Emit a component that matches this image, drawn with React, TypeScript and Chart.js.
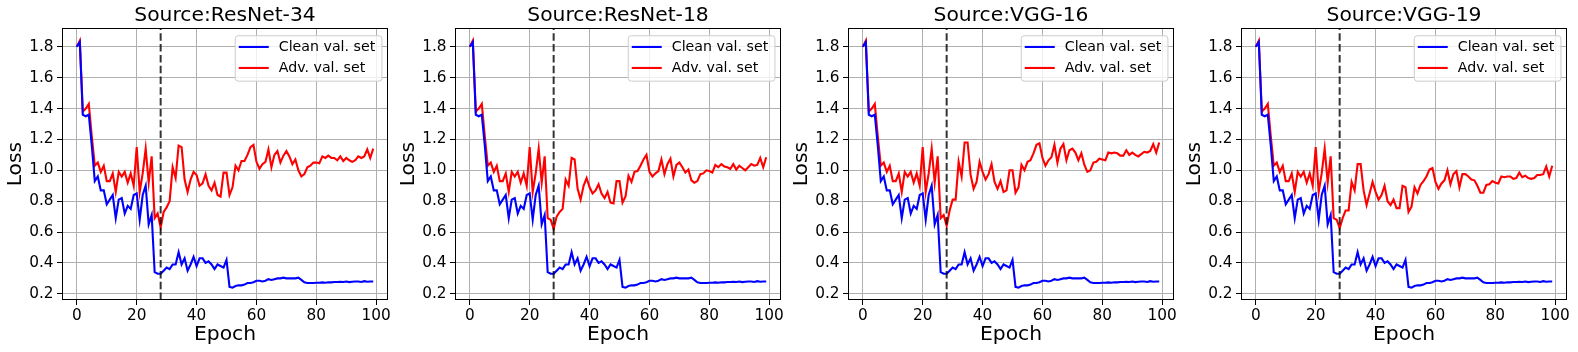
import React, { useEffect, useRef } from 'react';
import { Chart, registerables } from 'chart.js';

Chart.register(...registerables);

// ---------- data ----------
const EPOCHS = Array.from({ length: 100 }, (_, i) => i);
const X_TICKS = [0, 20, 40, 60, 80, 100];
const Y_TICKS = [0.2, 0.4, 0.6, 0.8, 1.0, 1.2, 1.4, 1.6, 1.8];
const X_MIN = -4.95;
const X_MAX = 103.95;
const Y_MIN = 0.16;
const Y_MAX = 1.92;
const SWITCH_EPOCH = 28;
const SERIES_LABELS = ['Clean val. set', 'Adv. val. set'];
const TITLES = ['Source:ResNet-34', 'Source:ResNet-18', 'Source:VGG-16', 'Source:VGG-19'];

const CLEAN_LOSS = [
  1.80, 1.83, 1.36, 1.35, 1.36, 1.16, 0.93, 0.96, 0.87, 0.87,
  0.78, 0.81, 0.84, 0.69, 0.81, 0.82, 0.72, 0.77, 0.75, 0.84,
  0.85, 0.68, 0.84, 0.90, 0.65, 0.71, 0.34, 0.33, 0.33, 0.35,
  0.37, 0.36, 0.39, 0.39, 0.47, 0.39, 0.43, 0.35, 0.39, 0.44,
  0.38, 0.43, 0.43, 0.40, 0.41, 0.39, 0.36, 0.39, 0.38, 0.37,
  0.42, 0.245, 0.24, 0.25, 0.255, 0.255, 0.26, 0.27, 0.27, 0.275,
  0.285, 0.285, 0.28, 0.285, 0.295, 0.29, 0.295, 0.30, 0.30, 0.305,
  0.30, 0.30, 0.30, 0.30, 0.305, 0.29, 0.275, 0.27, 0.27, 0.27,
  0.272, 0.272, 0.274, 0.272, 0.275, 0.274, 0.277, 0.277, 0.278, 0.277,
  0.28, 0.276, 0.278, 0.28, 0.28, 0.277, 0.282, 0.278, 0.28, 0.28,
];

// epochs 0-26, shared by all four sources
const ADV_EARLY = [
  1.80, 1.84, 1.38, 1.40, 1.43, 1.22, 1.03, 1.05, 0.99, 1.03,
  0.93, 0.93, 0.98, 0.86, 0.99, 0.96, 0.99, 0.92, 0.98, 0.90,
  1.15, 0.86, 0.98, 1.14, 0.92, 1.09, 0.69,
];

// epochs 27-99
const ADV_RESNET34 = [
  0.72, 0.63, 0.73, 0.76, 0.80, 1.02, 0.95, 1.16, 1.15, 0.94,
  0.86, 0.94, 0.99, 0.97, 0.90, 0.915, 0.975, 0.90, 0.87, 0.92,
  0.84, 0.83, 0.985, 0.985, 0.84, 0.89, 1.03, 1.00, 1.06, 1.06,
  1.10, 1.15, 1.165, 1.055, 1.01, 1.04, 1.055, 1.135, 1.02, 1.10,
  1.125, 1.05, 1.095, 1.125, 1.09, 1.04, 1.07, 1.00, 0.96, 0.975,
  1.02, 1.03, 1.05, 1.05, 1.045, 1.09, 1.08, 1.095, 1.08, 1.08,
  1.065, 1.09, 1.06, 1.08, 1.065, 1.055, 1.065, 1.09, 1.08, 1.09,
  1.135, 1.08, 1.14,
];

const ADV_RESNET18 = [
  0.68, 0.62, 0.70, 0.73, 0.75, 0.94, 0.90, 1.08, 1.07, 0.88,
  0.81, 0.90, 0.95, 0.89, 0.85, 0.87, 0.91, 0.85, 0.82, 0.86,
  0.79, 0.785, 0.93, 0.93, 0.79, 0.83, 0.965, 0.925, 0.99, 0.995,
  1.03, 1.07, 1.10, 0.99, 0.96, 0.98, 0.995, 1.07, 0.975, 1.04,
  1.075, 0.96, 1.035, 1.05, 1.02, 0.985, 1.005, 0.935, 0.92, 0.93,
  0.975, 0.98, 1.00, 0.995, 0.985, 1.035, 1.02, 1.04, 1.025, 1.02,
  1.01, 1.04, 1.005, 1.03, 1.015, 1.00, 1.02, 1.04, 1.03, 1.035,
  1.08, 1.02, 1.085,
];

const ADV_VGG16 = [
  0.71, 0.64, 0.74, 0.81, 0.81, 1.055, 0.96, 1.18, 1.18, 0.97,
  0.88, 0.925, 1.055, 0.99, 0.94, 0.975, 1.04, 0.925, 0.88, 0.93,
  0.86, 0.87, 1.00, 1.00, 0.855, 0.89, 1.035, 1.00, 1.055, 1.065,
  1.11, 1.165, 1.175, 1.08, 1.03, 1.065, 1.085, 1.165, 1.05, 1.14,
  1.17, 1.065, 1.13, 1.14, 1.115, 1.065, 1.11, 1.035, 0.99, 1.00,
  1.05, 1.055, 1.075, 1.07, 1.065, 1.115, 1.11, 1.115, 1.11, 1.095,
  1.095, 1.13, 1.10, 1.115, 1.10, 1.09, 1.105, 1.12, 1.115, 1.125,
  1.17, 1.115, 1.18,
];

const ADV_VGG19 = [
  0.68, 0.625, 0.69, 0.74, 0.74, 0.925, 0.87, 1.04, 1.04, 0.87,
  0.775, 0.85, 0.925, 0.86, 0.81, 0.84, 0.90, 0.80, 0.775, 0.81,
  0.755, 0.755, 0.90, 0.89, 0.73, 0.765, 0.89, 0.85, 0.905, 0.93,
  0.96, 1.005, 1.015, 0.925, 0.88, 0.915, 0.935, 1.00, 0.91, 0.975,
  0.995, 0.89, 0.975, 0.975, 0.96, 0.94, 0.935, 0.90, 0.855, 0.855,
  0.905, 0.91, 0.93, 0.92, 0.915, 0.96, 0.955, 0.96, 0.96, 0.945,
  0.95, 0.985, 0.955, 0.965, 0.95, 0.945, 0.95, 0.97, 0.97, 0.975,
  1.025, 0.96, 1.03,
];

const ADV_LATE = [ADV_RESNET34, ADV_RESNET18, ADV_VGG16, ADV_VGG19];

// ---------- styling ----------
const FONT = 'DejaVu Sans';
const CANVAS_W = 393;
const CANVAS_H = 352;
const PANEL_LEFTS = [0, 393, 786, 1179];

const decorPlugin = {
  id: 'decor',
  afterDatasetsDraw(chart: any) {
    const { ctx, chartArea: a, scales } = chart;
    const x = scales.x.getPixelForValue(SWITCH_EPOCH);
    ctx.save();
    // dashed switch line
    ctx.strokeStyle = 'rgba(0,0,0,0.8)';
    ctx.lineWidth = 2;
    ctx.setLineDash([7.5, 3.3]);
    ctx.beginPath();
    ctx.moveTo(x, a.bottom);
    ctx.lineTo(x, a.top);
    ctx.stroke();
    ctx.setLineDash([]);
    // frame
    ctx.strokeStyle = '#000';
    ctx.lineWidth = 1;
    const l = Math.round(a.left) + 0.5;
    const r = Math.round(a.right) - 0.5;
    const t = Math.round(a.top) + 0.5;
    const b = Math.round(a.bottom) - 0.5;
    ctx.strokeRect(l, t, r - l, b - t);
    ctx.restore();
  },
  afterDraw(chart: any) {
    const { ctx, chartArea: a } = chart;
    const w = 146.7;
    const h = 45.4;
    const lx = a.right - 6.6 - w;
    const ly = a.top + 7;
    ctx.save();
    ctx.beginPath();
    (ctx as any).roundRect(lx + 0.5, ly + 0.5, w, h, 3);
    ctx.fillStyle = 'rgba(255,255,255,0.8)';
    ctx.fill();
    ctx.strokeStyle = '#cccccc';
    ctx.lineWidth = 1;
    ctx.stroke();
    ctx.font = `14.2px "${FONT}"`;
    ctx.textBaseline = 'middle';
    ctx.textAlign = 'left';
    chart.data.datasets.forEach((ds: any, i: number) => {
      const y = ly + 11.7 + i * 21;
      ctx.strokeStyle = ds.borderColor;
      ctx.lineWidth = 2.1;
      ctx.beginPath();
      ctx.moveTo(lx + 4, y);
      ctx.lineTo(lx + 34, y);
      ctx.stroke();
      ctx.fillStyle = '#000';
      ctx.fillText(ds.label, lx + 44, y);
    });
    ctx.restore();
  },
};

function makeConfig(title: string, adv: number[]): any {
  const tickFont = { family: FONT, size: 15.3 };
  const labelFont = { family: FONT, size: 20.3 };
  return {
    type: 'line',
    data: {
      datasets: [
        {
          label: SERIES_LABELS[0],
          data: EPOCHS.map((e, i) => ({ x: e, y: CLEAN_LOSS[i] })),
          borderColor: '#0000ff',
          borderWidth: 2.1,
          pointRadius: 0,
          tension: 0,
          fill: false,
        },
        {
          label: SERIES_LABELS[1],
          data: EPOCHS.map((e, i) => ({ x: e, y: adv[i] })),
          borderColor: '#ff0000',
          borderWidth: 2.1,
          pointRadius: 0,
          tension: 0,
          fill: false,
        },
      ],
    },
    options: {
      animation: false,
      responsive: false,
      maintainAspectRatio: false,
      devicePixelRatio: 1,
      layout: { padding: { left: 0, right: 3.4, top: 0, bottom: 0 } },
      plugins: {
        legend: { display: false },
        tooltip: { enabled: false },
        title: {
          display: true,
          text: title,
          fullSize: false,
          color: '#000',
          font: { family: FONT, size: 20.3, weight: 'normal', lineHeight: 1.2 },
          padding: { top: 3.3, bottom: 0.6 },
        },
      },
      scales: {
        x: {
          type: 'linear',
          min: X_MIN,
          max: X_MAX,
          afterBuildTicks: (s: any) => {
            s.ticks = X_TICKS.map((v) => ({ value: v }));
          },
          afterFit: (s: any) => {
            s.height = 52;
          },
          ticks: {
            font: tickFont,
            color: '#000',
            padding: 2,
            maxRotation: 0,
            autoSkip: false,
            callback: (v: any) => String(v),
          },
          grid: { color: '#b0b0b0', lineWidth: 1, tickColor: '#000', tickLength: 5, drawTicks: true },
          border: { display: false },
          title: {
            display: true,
            text: 'Epoch',
            color: '#000',
            font: labelFont,
            padding: { top: 0, bottom: 4.8 },
          },
        },
        y: {
          type: 'linear',
          min: Y_MIN,
          max: Y_MAX,
          afterBuildTicks: (s: any) => {
            s.ticks = Y_TICKS.map((v) => ({ value: v }));
          },
          afterFit: (s: any) => {
            s.width = 62;
          },
          ticks: {
            font: tickFont,
            color: '#000',
            padding: 3.5,
            autoSkip: false,
            callback: (v: any) => Number(v).toFixed(1),
          },
          grid: { color: '#b0b0b0', lineWidth: 1, tickColor: '#000', tickLength: 5, drawTicks: true },
          border: { display: false },
          title: {
            display: true,
            text: 'Loss',
            color: '#000',
            font: labelFont,
            padding: { top: 3.6, bottom: 0 },
          },
        },
      },
    },
    plugins: [decorPlugin],
  };
}

function Panel({ index }: { index: number }) {
  const ref = useRef<HTMLCanvasElement | null>(null);
  useEffect(() => {
    if (!ref.current) return;
    const adv = ADV_EARLY.concat(ADV_LATE[index]);
    const chart = new Chart(ref.current, makeConfig(TITLES[index], adv));
    return () => chart.destroy();
  }, [index]);
  return (
    <canvas
      ref={ref}
      width={CANVAS_W}
      height={CANVAS_H}
      style={{
        position: 'absolute',
        left: PANEL_LEFTS[index],
        top: 0,
        width: CANVAS_W,
        height: CANVAS_H,
      }}
    />
  );
}

export default function App() {
  return (
    <div
      style={{
        position: 'fixed',
        left: 0,
        top: 0,
        width: 1578,
        height: 352,
        overflow: 'hidden',
        background: '#ffffff',
      }}
    >
      {TITLES.map((_, i) => (
        <Panel key={i} index={i} />
      ))}
    </div>
  );
}
